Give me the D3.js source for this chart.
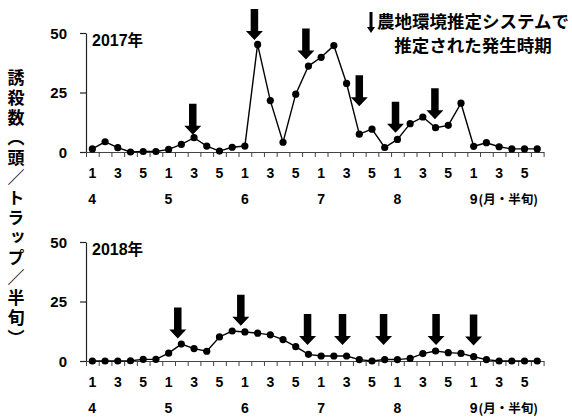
<!DOCTYPE html>
<html>
<head>
<meta charset="utf-8">
<script src="https://cdn.jsdelivr.net/npm/d3@7"></script>
<style>
  html, body { margin: 0; padding: 0; background: #fff; }
  svg { display: block; }
  text { font-family: "Liberation Sans", Arial, "Noto Sans CJK JP", sans-serif; font-weight: bold; fill: #000; }
  .jp { font-family: "Noto Sans CJK JP", "Liberation Sans", sans-serif; font-weight: bold; }
</style>
</head>
<body>
<script>
// Pentads (半旬) from April to September: 6 per month
const months = ["4", "5", "6", "7", "8", "9"];
const pentadTicks = ["1", "3", "5"];

// Trap catches per pentad
const catch2017 = [1.3, 4.3, 1.8, 0, 0.2, 0.2, 1.1, 3.2, 6.0, 2.5, 0.4, 2.0,
                   2.5, 45.2, 21.6, 4.1, 24.3, 36.1, 39.8, 44.7, 28.8, 7.5, 9.6, 1.9,
                   5.3, 11.9, 14.7, 10.2, 11.2, 20.5, 2.4, 3.9, 2.2, 1.3, 1.3, 1.3];
const catch2018 = [0, 0, 0, 0.1, 0.7, 0.7, 3.3, 7.1, 5.2, 4.1, 10.1, 12.6,
                   12.2, 11.7, 11.0, 9.0, 6.0, 2.8, 2.1, 2.1, 2.1, 0.6, 0, 0.6,
                   0.6, 1.1, 3.1, 4.2, 3.5, 3.2, 1.8, 0.6, 0, 0, 0, 0];

// Estimated emergence periods (pentad position) and arrow tip level
const arrowAt2017 = [7.9, 12.75, 16.8, 21.0, 23.85, 26.95];
const arrowTip2017 = [7.2, 47.1, 38.9, 19.2, 8.1, 13.8];
const arrowAt2018 = [6.72, 11.68, 16.93, 19.68, 22.91, 27.04, 29.99];
const arrowTip2018 = [9.5, 14.8, 6.7, 6.7, 6.7, 6.7, 6.5];

const yTicks = [0, 25, 50];
const years = ["2017年", "2018年"];
const monthUnit = "(月・半旬)";
const yTitle = "誘殺数（頭／トラップ／半旬）";
const legendLines = ["農地環境推定システムで", "推定された発生時期"];

const W = 572, H = 417;
const svg = d3.select("body").append("svg").attr("width", W).attr("height", H);

const nP = months.length * 6;
const x = d3.scaleLinear().domain([-0.5, nP - 0.5]).range([86, 543.6]);

function arrowPath(tipX, tipY, len, shaftW, headW, headL) {
  const p = d3.path();
  p.moveTo(tipX - shaftW / 2, tipY - len);
  p.lineTo(tipX + shaftW / 2, tipY - len);
  p.lineTo(tipX + shaftW / 2, tipY - headL);
  p.lineTo(tipX + headW / 2, tipY - headL);
  p.lineTo(tipX, tipY);
  p.lineTo(tipX - headW / 2, tipY - headL);
  p.lineTo(tipX - shaftW / 2, tipY - headL);
  p.closePath();
  return p.toString();
}

function panel(values, arrowAt, arrowTip, yTop, yBottom, yearLabel) {
  const y = d3.scaleLinear().domain([0, 50]).range([yBottom, yTop]);
  const g = svg.append("g");

  // y axis
  const ya = g.append("g").attr("transform", `translate(${x.range()[0]},0)`)
    .call(d3.axisLeft(y).tickValues(yTicks).tickSize(6).tickPadding(13).tickSizeOuter(0));
  ya.select(".domain").attr("stroke", "#222").attr("stroke-width", 1.2);
  ya.selectAll(".tick line").attr("stroke", "#222").attr("stroke-width", 1.2);
  ya.selectAll(".tick text").attr("font-size", 15).attr("font-family", null)
    .attr("dy", "0.36em");

  // x axis: ticks at pentad boundaries
  const xa = g.append("g").attr("transform", `translate(0,${yBottom})`)
    .call(d3.axisBottom(x).tickValues(d3.range(-0.5, nP, 1)).tickSize(5)
      .tickFormat("").tickSizeOuter(0));
  xa.select(".domain").attr("stroke", "#444").attr("stroke-width", 1.2);
  xa.selectAll(".tick line").attr("stroke", "#444").attr("stroke-width", 1);

  // pentad labels 1,3,5 in each month
  const pentadIdx = d3.range(nP).filter(i => pentadTicks.includes(String(i % 6 + 1)));
  g.append("g").selectAll("text").data(pentadIdx).join("text")
    .attr("x", i => x(i)).attr("y", yBottom + 26)
    .attr("text-anchor", "middle").attr("font-size", 14)
    .text(i => String(i % 6 + 1));

  // month labels
  const ml = g.append("g").selectAll("text").data(months).join("text")
    .attr("x", (m, k) => x(k * 6) - 4).attr("y", yBottom + 52)
    .attr("font-size", 14);
  ml.append("tspan").text(m => m);
  ml.filter((m, k) => k === months.length - 1).append("tspan")
    .attr("class", "jp").attr("font-size", 12.5).attr("dx", 1).text(monthUnit);

  // year label
  g.append("text").attr("x", 92).attr("y", yTop + 13).attr("font-size", 16)
    .text(yearLabel.slice(0, 4))
    .append("tspan").attr("class", "jp").attr("font-size", 15.5).text(yearLabel.slice(4));

  // series line and points
  g.append("path").datum(values)
    .attr("fill", "none").attr("stroke", "#000").attr("stroke-width", 1.4)
    .attr("d", d3.line().x((d, i) => x(i)).y(d => y(d)));
  g.append("g").selectAll("circle").data(values).join("circle")
    .attr("cx", (d, i) => x(i)).attr("cy", d => y(d)).attr("r", 3.6).attr("fill", "#000");

  // emergence arrows
  g.append("g").selectAll("path").data(arrowAt).join("path")
    .attr("d", (a, k) => arrowPath(x(a), y(arrowTip[k]), 31, 7.5, 17, 9))
    .attr("fill", "#000");
}

panel(catch2017, arrowAt2017, arrowTip2017, 33, 152, years[0]);
panel(catch2018, arrowAt2018, arrowTip2018, 242, 361, years[1]);

// y-axis title, vertical
svg.append("text").attr("class", "jp")
  .attr("x", 16).attr("y", 209)
  .attr("text-anchor", "middle")
  .attr("font-size", 17)
  .style("writing-mode", "vertical-rl")
  .style("letter-spacing", "3px")
  .text(yTitle);

// legend
svg.append("path").attr("d", arrowPath(371, 33, 21, 3, 8, 6)).attr("fill", "#000");
svg.append("g").selectAll("text").data(legendLines).join("text")
  .attr("class", "jp").attr("x", 473).attr("y", (t, k) => 28 + k * 23.5)
  .attr("text-anchor", "middle").attr("font-size", 17.5)
  .text(t => t);
</script>
</body>
</html>
